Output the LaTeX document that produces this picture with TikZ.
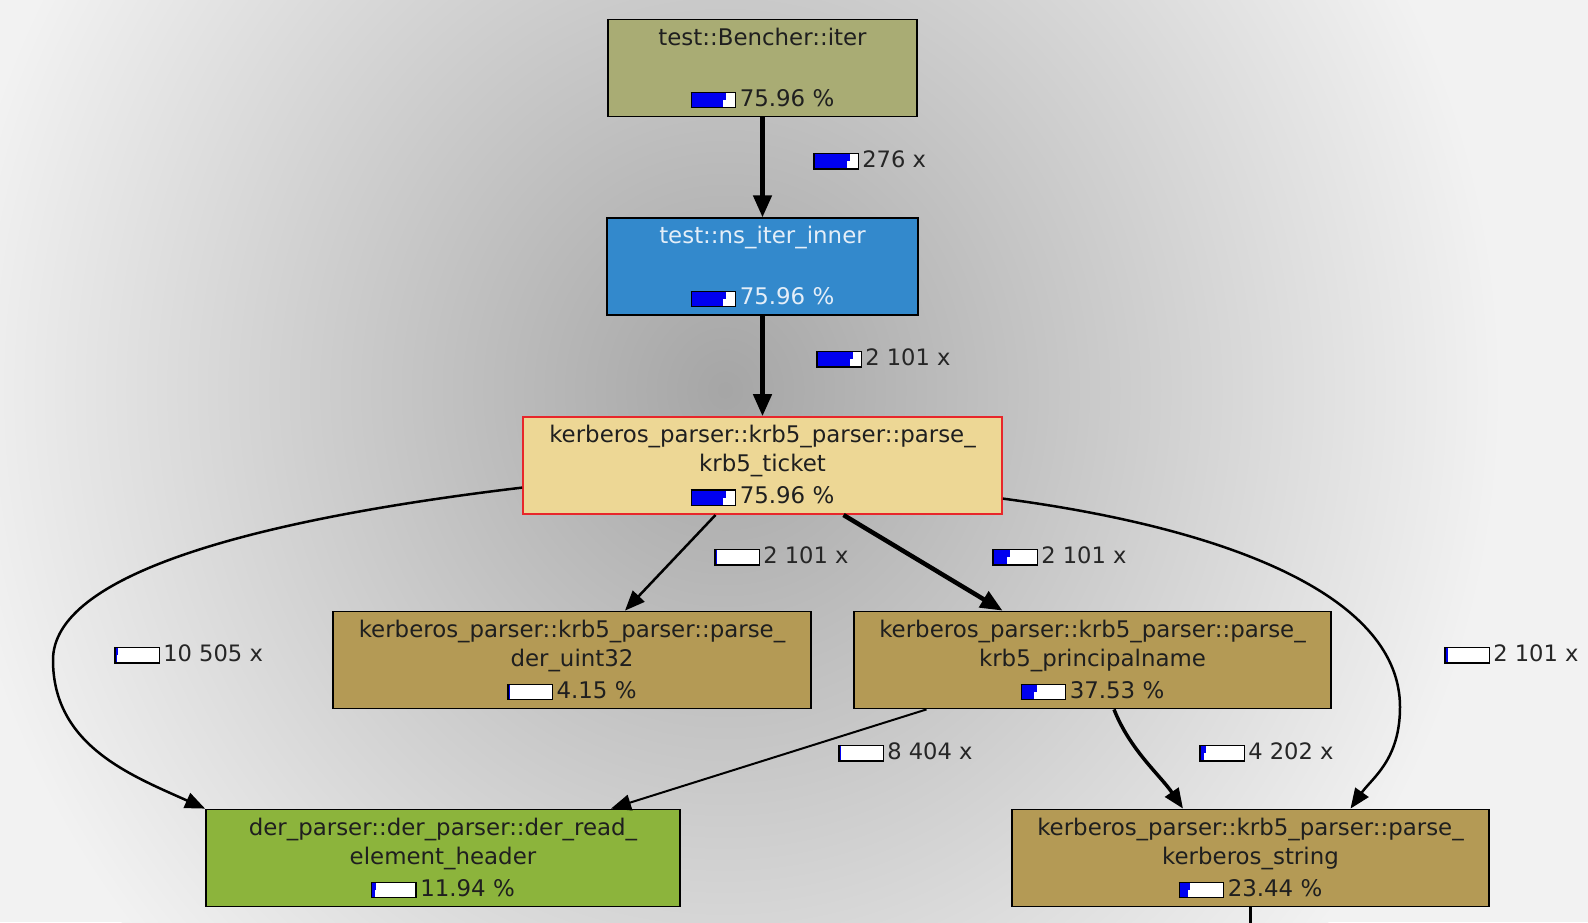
\documentclass[tikz,border=0pt]{standalone}
\usepackage{fontspec}
\setmainfont{DejaVu Sans}
\usepackage{tikz}
\usetikzlibrary{positioning,arrows.meta,calc}

\definecolor{benchfn}{HTML}{A9AC74}
\definecolor{innerfn}{HTML}{3389CC}
\definecolor{innertext}{HTML}{E4EEF8}
\definecolor{ticketfn}{HTML}{EDD795}
\definecolor{parsefn}{HTML}{B49A55}
\definecolor{derfn}{HTML}{8CB43C}
\definecolor{hotred}{HTML}{E8262A}
\definecolor{barblue}{HTML}{0000F0}

% cost bar: #1 = blue part, #2 = small step on top
\newcommand{\costbar}[2]{\raisebox{-1pt}{\setlength{\fboxsep}{0pt}\setlength{\fboxrule}{1.3pt}%
  \fcolorbox{black}{white}{\textcolor{barblue}{\rule{#1pt}{14pt}\rule[7pt]{#2pt}{7pt}}%
  \hspace*{\dimexpr 43pt-#1pt-#2pt\relax}}}\hspace{3.5pt}}

\begin{document}
\begin{tikzpicture}[
    x=1pt, y=-1pt,
    fn/.style={rectangle, draw=black, line width=1.8pt, minimum height=97pt,
        inner sep=0pt, align=center, text=black!88,
        font=\fontsize{22.9}{29}\selectfont},
    count/.style={anchor=west, inner sep=0pt, text=black!85,
        font=\fontsize{22.6}{29}\selectfont},
    call/.style={-{Triangle[length=20pt,width=16pt]}, line width=2.5pt},
    hot/.style={call, -{Triangle[length=22pt,width=18pt]}, line width=4.5pt},
    node distance=100pt
]
\useasboundingbox (0,0) rectangle (1588,922);
\fill[black!5] (0,0) rectangle (1588,922);
\shade[inner color=black!35, outer color=black!5] (725,390) ellipse [x radius=780, y radius=840];

\node (bench) [fn, fill=benchfn, minimum width=309pt] at (762.5,68)
    {test::Bencher::iter\\\mbox{}\\[3pt]\costbar{31}{3}75.96 \%};
\node (inner) [fn, fill=innerfn, text=innertext, minimum width=311pt, below=of bench]
    {test::ns\_iter\_inner\\\mbox{}\\[3pt]\costbar{31}{3}75.96 \%};
\node (ticket) [fn, fill=ticketfn, draw=hotred, minimum width=479pt, below=of inner]
    {kerberos\_parser::krb5\_parser::parse\_\\krb5\_ticket\\[3pt]\costbar{31}{3}75.96 \%};
\node (uint) [fn, fill=parsefn, minimum width=478pt] at (572,660)
    {kerberos\_parser::krb5\_parser::parse\_\\der\_uint32\\[3pt]\costbar{1}{0}4.15 \%};
\node (pname) [fn, fill=parsefn, minimum width=477pt] at (1092.5,660)
    {kerberos\_parser::krb5\_parser::parse\_\\krb5\_principalname\\[3pt]\costbar{12}{3}37.53 \%};
\node (hdr) [fn, fill=derfn, minimum width=474pt] at (443,858)
    {der\_parser::der\_parser::der\_read\_\\element\_header\\[3pt]\costbar{2.5}{1}11.94 \%};
\node (kstr) [fn, fill=parsefn, minimum width=477pt] at (1250.5,858)
    {kerberos\_parser::krb5\_parser::parse\_\\kerberos\_string\\[3pt]\costbar{8}{2}23.44 \%};
\coordinate (kout) at (1250.5,940);

% calls
\draw[hot] (bench) -- (inner);
\draw[hot] (inner) -- (ticket);
\draw[call] ($(ticket.west)+(0,22)$) .. controls (250,520) and (53,575) .. (53,660)
    .. controls (53,745) and (130,775) .. (hdr.north west);
\draw[call] ($(ticket.south)+(-47,0)$) -- ($(uint.north)+(53,0)$);
\draw[hot] ($(ticket.south)+(81,0)$) -- ($(pname.north)+(-90,0)$);
\draw[call] ($(ticket.east)+(0,33)$) .. controls (1240,530) and (1400,600) .. (1400,707)
    .. controls (1400,760) and (1372,778) .. ($(kstr.north)+(100,0)$);
\draw[call, line width=2pt] ($(pname.south)+(-166,0)$) -- ($(hdr.north)+(168,0)$);
\draw[call, line width=3.5pt] ($(pname.south)+(21.5,0)$) .. controls (1130,750) and (1160,775)
    .. ($(kstr.north)+(-67.5,0)$);
\draw[line width=2.5pt] (kstr.south) -- (kout);

% call counts
\node (n276) [count] at (813,160) {\costbar{32}{3}276 x};
\node (n2101a) [count] at (816,358) {\costbar{32}{3}2 101 x};
\node (n2101b) [count] at (714,556) {\costbar{1}{0}2 101 x};
\node (n2101c) [count] at (992,556) {\costbar{13}{3}2 101 x};
\node (n10505) [count] at (114,654) {\costbar{1.5}{1}10 505 x};
\node (n2101d) [count] at (1444,654) {\costbar{2}{0}2 101 x};
\node (n8404) [count] at (838,752) {\costbar{1.5}{0}8 404 x};
\node (n4202) [count] at (1199,752) {\costbar{3}{2}4 202 x};
\end{tikzpicture}
\end{document}
